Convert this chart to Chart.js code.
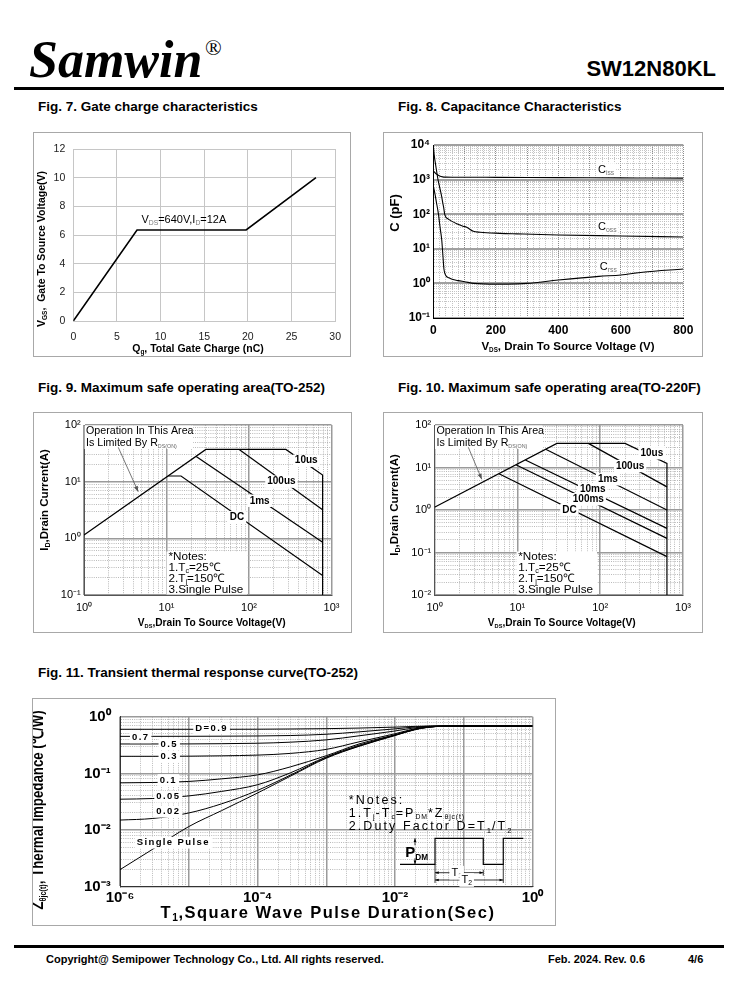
<!DOCTYPE html>
<html lang="en">
<head>
<meta charset="UTF-8">
<meta name="viewport" content="width=device-width, initial-scale=1.0">
<title>SW12N80KL - characteristics page 4/6</title>
<script src="https://cdn.jsdelivr.net/npm/chart.js"></script>
<style>
  html, body { margin: 0; padding: 0; background: #fff; }
  #page { position: relative; width: 738px; height: 1000px; overflow: hidden; font-family: "Liberation Sans", Arial, sans-serif; color: #000; }
  .abs { position: absolute; white-space: nowrap; }
  .logo { left: 29px; top: 34px; font: italic bold 52px/52px "Liberation Serif", "Times New Roman", serif; }
  .reg { left: 205px; top: 37px; font: 22px/22px "Liberation Serif", "Times New Roman", serif; }
  .part { right: 22px; top: 58px; font: bold 22px/22px "Liberation Sans", Arial, sans-serif; }
  .rule { left: 14px; width: 710px; height: 3px; background: #000; }
  .fig { font: bold 13.5px/16px "Liberation Sans", Arial, sans-serif; }
  .box { border: 1px solid #a8a8a8; box-sizing: border-box; pointer-events: none; }
  .foot { top: 952px; font: bold 11px/14px "Liberation Sans", Arial, sans-serif; }
  canvas { position: absolute; }
</style>
</head>
<body>
<div id="page">
  <div class="abs logo">Samwin</div>
  <div class="abs reg">®</div>
  <div class="abs part">SW12N80KL</div>
  <div class="abs rule" style="top:87px"></div>

  <div class="abs fig" style="left:38px;top:99px">Fig. 7. Gate charge characteristics</div>
  <div class="abs fig" style="left:398px;top:99px">Fig. 8. Capacitance Characteristics</div>
  <div class="abs fig" style="left:38px;top:380px">Fig. 9. Maximum safe operating area(TO-252)</div>
  <div class="abs fig" style="left:398px;top:380px">Fig. 10. Maximum safe operating area(TO-220F)</div>
  <div class="abs fig" style="left:38px;top:665px">Fig. 11. Transient thermal response curve(TO-252)</div>

  <canvas id="fig7"></canvas>
  <canvas id="fig8"></canvas>
  <canvas id="fig9"></canvas>
  <canvas id="fig10"></canvas>
  <canvas id="fig11"></canvas>

  <div class="abs rule" style="top:945px"></div>
  <div class="abs foot" style="left:46px">Copyright@ Semipower Technology Co., Ltd. All rights reserved.</div>
  <div class="abs foot" style="left:548px">Feb. 2024. Rev. 0.6</div>
  <div class="abs foot" style="left:688px">4/6</div>
</div>

<script>
// ---------------- data ----------------
// Fig. 7 gate charge (nC -> V)
const gateChargeNc = [0, 7.3, 19.8, 27.8];
const gateVoltageV = [0, 6.35, 6.35, 10];

// Fig. 8 capacitance (V -> pF)
const cissVds = [0, 5, 10, 20, 30, 40, 60, 100, 200, 300, 400, 500, 600, 700, 800];
const cissPf  = [1800, 1600, 1450, 1280, 1200, 1180, 1170, 1170, 1160, 1150, 1140, 1130, 1120, 1110, 1100];
const cossVds = [0, 3, 8, 15, 20, 27, 30, 33, 37, 48, 60, 75, 95, 107, 128, 150, 213, 267, 400, 600, 800];
const cossPf  = [10000, 5000, 2500, 1000, 620, 316, 220, 160, 95, 72, 62, 53, 45, 42, 32, 30, 28, 27, 25, 23.5, 22];
const crssVds = [0, 5, 10, 16, 22, 27, 31, 34, 40, 50, 60, 80, 100, 130, 200, 270, 300, 400, 530, 600, 670, 800];
const crssPf  = [650, 400, 220, 107, 40, 18, 6, 2.6, 1.7, 1.45, 1.32, 1.2, 1.12, 1.0, 0.95, 0.97, 1.0, 1.25, 1.6, 1.75, 2.1, 2.6];

// Fig. 9 SOA TO-252 (V -> A)
const soa252LimitV = [1, 30, 280, 780, 780];
const soa252LimitA = [1.15, 37, 37, 13.1, 0.1];
const soa252us100V = [76, 780];
const soa252us100A = [37, 3.2];
const soa252ms1V   = [22.9, 780];
const soa252ms1A   = [27.9, 0.85];
const soa252DcV    = [10.5, 15, 780];
const soa252DcA    = [12.6, 12.6, 0.22];

// Fig. 10 SOA TO-220F (V -> A)
const soa220LimitV = [1, 30, 200, 640, 640];
const soa220LimitA = [1.16, 37, 37, 12.5, 0.01];
const soa220us100V = [72, 640];
const soa220us100A = [37, 3.5];
const soa220ms1V   = [22, 640];
const soa220ms1A   = [27, 1.0];
const soa220ms10V  = [12.5, 640];
const soa220ms10A  = [15, 0.37];
const soa220ms100V = [9.6, 640];
const soa220ms100A = [11.6, 0.215];
const soa220DcV    = [6, 640];
const soa220DcA    = [7.1, 0.08];

// Fig. 11 transient thermal impedance (s -> degC/W)
const pulseSec = [1e-6, 3e-6, 1e-5, 3e-5, 1e-4, 3e-4, 1e-3, 3e-3, 1e-2, 2e-2, 3e-2, 5e-2, 1e-1, 1];
const zthD09   = [0.60, 0.60, 0.60, 0.60, 0.602, 0.607, 0.615, 0.63, 0.655, 0.675, 0.683, 0.685, 0.685, 0.685];
const zthD07   = [0.45, 0.45, 0.451, 0.453, 0.457, 0.465, 0.49, 0.54, 0.61, 0.66, 0.678, 0.685, 0.685, 0.685];
const zthD05   = [0.33, 0.33, 0.331, 0.334, 0.34, 0.355, 0.39, 0.46, 0.56, 0.64, 0.672, 0.685, 0.685, 0.685];
const zthD03   = [0.20, 0.20, 0.201, 0.204, 0.21, 0.225, 0.265, 0.36, 0.50, 0.62, 0.665, 0.684, 0.685, 0.685];
const zthD01   = [0.068, 0.069, 0.072, 0.08, 0.094, 0.13, 0.205, 0.33, 0.48, 0.605, 0.655, 0.682, 0.685, 0.685];
const zthD005  = [0.035, 0.036, 0.04, 0.048, 0.063, 0.102, 0.195, 0.315, 0.475, 0.60, 0.652, 0.681, 0.685, 0.685];
const zthD002  = [0.015, 0.016, 0.02, 0.029, 0.05, 0.093, 0.19, 0.305, 0.47, 0.60, 0.65, 0.68, 0.685, 0.685];
const zthSingle = [0.002, 0.0046, 0.0115, 0.022, 0.045, 0.089, 0.185, 0.30, 0.465, 0.595, 0.648, 0.68, 0.685, 0.685];

// pulse sketch inside fig. 11 (in axis units)
const pulseEdges  = [0.01183, 0.0382, 0.1923, 0.3758, 0.7345];
const pulseLevels = [0.002485, 0.00715];

// ---------------- helpers ----------------
const SANS = '"Liberation Sans", Arial, sans-serif';
const SUPS = {'0':'⁰','1':'¹','2':'²','3':'³','4':'⁴','5':'⁵','6':'⁶','7':'⁷','8':'⁸','9':'⁹','-':'⁻'};

function isPow10(v) {
  const e = Math.log10(v);
  return Math.abs(e - Math.round(e)) < 1e-6;
}
function decadeLabel(v) {
  if (!isPow10(v)) return '';
  return '10' + String(Math.round(Math.log10(v))).replace(/./g, c => SUPS[c]);
}
function evenDecadeLabel(v) {
  if (!isPow10(v) || Math.round(Math.log10(v)) % 2 !== 0) return '';
  return decadeLabel(v);
}
function decadeTicks(min, max) {
  const out = [];
  for (let e = Math.round(Math.log10(min)); e < Math.round(Math.log10(max)); e++) {
    for (let m = 1; m < 10; m++) out.push(m * Math.pow(10, e));
  }
  out.push(max);
  return out;
}
function pts(xs, ys) { return xs.map((x, i) => ({ x, y: ys[i] })); }
function line(xs, ys, extra) {
  return Object.assign({
    data: pts(xs, ys), borderColor: '#000', borderWidth: 1.2,
    pointRadius: 0, showLine: true, fill: false, tension: 0
  }, extra || {});
}

function drawRich(ctx, it, x, y) {
  const size = it.size || 11;
  const fam = it.family || SANS;
  const weight = it.bold ? 'bold ' : '';
  const subSize = size * (it.subScale || 0.62);
  const ls = it.ls || 0;
  ctx.save();
  const segs = it.parts.map(p => {
    const s = Array.isArray(p) ? p[0] : p;
    const kind = Array.isArray(p) ? p[1] : '';
    const fs = kind ? subSize : size;
    const sp = kind ? ls * 0.4 : ls;
    ctx.font = weight + fs + 'px ' + fam;
    ctx.letterSpacing = sp + 'px';
    return { s, kind, fs, sp, w: ctx.measureText(s).width };
  });
  const total = segs.reduce((a, g) => a + g.w, 0);
  ctx.translate(x, y);
  if (it.rot) ctx.rotate(it.rot * Math.PI / 180);
  if (it.sx) ctx.scale(it.sx, 1);
  let cx = it.align === 'center' ? -total / 2 : it.align === 'right' ? -total : 0;
  if (it.bg) {
    ctx.fillStyle = it.bg;
    ctx.fillRect(cx - 2, -size * 0.62, total + 4, size * 1.24);
  }
  ctx.textBaseline = 'middle';
  ctx.textAlign = 'left';
  segs.forEach(g => {
    ctx.font = weight + g.fs + 'px ' + fam;
    ctx.letterSpacing = g.sp + 'px';
    ctx.fillStyle = g.kind ? (it.subColor || it.color || '#000') : (it.color || '#000');
    const dy = g.kind === 'sub' ? size * 0.3 : g.kind === 'sup' ? -size * 0.32 : 0;
    ctx.fillText(g.s, cx, dy);
    cx += g.w;
  });
  ctx.restore();
}

function drawArrow(ctx, x1, y1, x2, y2, o) {
  o = o || {};
  const L = o.head || 5;
  ctx.save();
  ctx.strokeStyle = ctx.fillStyle = o.color || '#000';
  ctx.lineWidth = o.width || 1;
  ctx.beginPath(); ctx.moveTo(x1, y1); ctx.lineTo(x2, y2); ctx.stroke();
  const a = Math.atan2(y2 - y1, x2 - x1);
  const heads = o.both ? [[x2, y2, a], [x1, y1, a + Math.PI]] : [[x2, y2, a]];
  heads.forEach(([hx, hy, ha]) => {
    ctx.beginPath();
    ctx.moveTo(hx, hy);
    ctx.lineTo(hx - L * Math.cos(ha - 0.35), hy - L * Math.sin(ha - 0.35));
    ctx.lineTo(hx - L * Math.cos(ha + 0.35), hy - L * Math.sin(ha + 0.35));
    ctx.closePath(); ctx.fill();
  });
  ctx.restore();
}

function T(parts, o) { return Object.assign({ parts }, o); }

function overlay(box, items, extra) {
  return {
    id: 'overlay',
    afterDatasetsDraw(chart) {
      const ctx = chart.ctx, sx = chart.scales.x, sy = chart.scales.y;
      const X = v => sx.getPixelForValue(v), Y = v => sy.getPixelForValue(v);
      items.forEach(it => {
        if (it.rect) {
          const [l, t, r, b] = it.rect;
          ctx.save(); ctx.fillStyle = '#fff';
          ctx.fillRect(l - box.l, t - box.t, r - l, b - t);
          ctx.restore();
        }
      });
      if (extra) extra(ctx, X, Y);
      items.forEach(it => {
        if (it.rect) return;
        if (it.arrow) {
          const [x1, y1, x2, y2] = it.arrow;
          drawArrow(ctx, X(x1), Y(y1), X(x2), Y(y2), it);
          return;
        }
        const x = it.x !== undefined ? X(it.x) : it.px - box.l;
        const y = it.y !== undefined ? Y(it.y) : it.py - box.t;
        drawRich(ctx, it, x, y);
      });
    }
  };
}

function logAxis(min, max, font, pad, st, labeller) {
  return {
    type: 'logarithmic', min, max,
    afterBuildTicks: s => { s.ticks = decadeTicks(min, max).map(v => ({ value: v })); },
    ticks: { autoSkip: false, maxRotation: 0, padding: pad, font, color: '#000', callback: v => (labeller || decadeLabel)(v) },
    grid: {
      drawTicks: false,
      color: c => (c.tick && isPow10(c.tick.value)) ? st.major : st.minor,
      lineWidth: c => (c.tick && isPow10(c.tick.value)) ? st.majorW : st.minorW
    },
    border: {
      display: true, color: st.axis, width: 1,
      dash: c => (c.tick && isPow10(c.tick.value)) ? [] : st.dash
    }
  };
}

function makeChart(id, box, plot, xs, ys, datasets, plugin) {
  const cv = document.getElementById(id);
  cv.width = box.w; cv.height = box.h;
  cv.style.left = box.l + 'px'; cv.style.top = box.t + 'px';
  cv.style.width = box.w + 'px'; cv.style.height = box.h + 'px';
  const frame = document.createElement('div');
  frame.className = 'abs box';
  Object.assign(frame.style, { left: box.l + 'px', top: box.t + 'px', width: box.w + 'px', height: box.h + 'px' });
  document.getElementById('page').appendChild(frame);

  xs.afterFit = s => { s.height = box.t + box.h - plot.b; };
  ys.afterFit = s => { s.width = plot.l - box.l; };
  return new Chart(cv, {
    type: 'scatter',
    data: { datasets },
    options: {
      responsive: false, animation: false, events: [],
      layout: { padding: { left: 0, bottom: 0, top: plot.t - box.t, right: box.l + box.w - plot.r } },
      plugins: { legend: { display: false }, tooltip: { enabled: false } },
      scales: { x: xs, y: ys }
    },
    plugins: [plugin]
  });
}

// ---------------- Fig. 7 ----------------
(function () {
  const box = { l: 33, t: 132, w: 318, h: 225 };
  const plot = { l: 73.3, t: 149, r: 336.7, b: 321 };
  const tf = { family: SANS, size: 10.5 };
  const gridC = '#c6c6c6';
  const xs = { type: 'linear', min: 0, max: 30,
    ticks: { stepSize: 5, padding: 10, font: tf, color: '#222' },
    grid: { color: gridC, lineWidth: 1, drawTicks: false }, border: { color: gridC } };
  const ys = { type: 'linear', min: 0, max: 12,
    ticks: { stepSize: 2, padding: 8, font: tf, color: '#222' },
    grid: { color: gridC, lineWidth: 1, drawTicks: false }, border: { color: gridC } };
  const items = [
    T(['V', ['GS', 'sub'], ',  Gate To Source Voltage(V)'], { px: 42, py: 249, rot: -90, bold: true, size: 10.5, align: 'center' }),
    T(['Q', ['g', 'sub'], ', Total Gate Charge (nC)'], { px: 198, py: 349, bold: true, size: 10.5, align: 'center' }),
    T(['V', ['DS', 'sub'], '=640V,I', ['D', 'sub'], '=12A'], { x: 7.8, y: 7.05, size: 11, subColor: '#777' })
  ];
  makeChart('fig7', box, plot, xs, ys,
    [line(gateChargeNc, gateVoltageV, { borderWidth: 1.6 })],
    overlay(box, items));
})();

// ---------------- Fig. 8 ----------------
(function () {
  const box = { l: 383, t: 132, w: 320, h: 225 };
  const plot = { l: 433.3, t: 145, r: 683.3, b: 318 };
  const tf = { family: SANS, size: 12, weight: 'bold' };
  const xs = { type: 'linear', min: 0, max: 800,
    ticks: { stepSize: 20, autoSkip: false, maxRotation: 0, padding: 5, font: tf, color: '#000',
      callback: v => (v % 200 === 0 ? String(v) : '') },
    grid: { drawTicks: false,
      color: c => (c.tick && c.tick.value % 100 === 0) ? '#8c8c8c' : '#c4c4c4',
      lineWidth: 1 },
    border: { color: '#000', width: 1, dash: [1, 1] } };
  const ys = logAxis(0.1, 10000, tf, 3.3,
    { major: '#a0a0a0', minor: '#b8b8b8', majorW: 2, minorW: 0.8, axis: '#000', dash: [1, 1] });
  const items = [
    T(['C (pF)'], { px: 395, py: 213, rot: -90, bold: true, size: 13, align: 'center' }),
    T(['V', ['DS', 'sub'], ', Drain To Source Voltage (V)'], { px: 568, py: 347, bold: true, size: 11.5, align: 'center', subScale: 0.55 }),
    T(['C', ['iss', 'sub']], { x: 527, y: 1890, size: 11, subColor: '#777', bg: '#fff' }),
    T(['C', ['oss', 'sub']], { x: 527, y: 43.5, size: 11, subColor: '#777', bg: '#fff' }),
    T(['C', ['rss', 'sub']], { x: 533, y: 3.04, size: 11, subColor: '#777', bg: '#fff' })
  ];
  const smooth = { cubicInterpolationMode: 'monotone', borderWidth: 1.1 };
  makeChart('fig8', box, plot, xs, ys, [
    line(cissVds, cissPf, smooth),
    line(cossVds, cossPf, smooth),
    line(crssVds, crssPf, smooth)
  ], overlay(box, items));
})();

// ---------------- SOA figures ----------------
const soaGrid = { major: '#9a9a9a', minor: '#a8a8a8', majorW: 1.5, minorW: 0.8, axis: '#555', dash: [1, 1.2] };
const soaTick = { family: SANS, size: 11 };
const lblOpt = { bold: true, size: 10, align: 'center', bg: '#fff' };

function soaNotes(left) {
  return [
    T(['*Notes:'], { px: left, py: 556.5, size: 11.7 }),
    T(['1.T', ['c', 'sub'], '=25℃'], { px: left, py: 567.5, size: 11.7 }),
    T(['2.T', ['j', 'sub'], '=150℃'], { px: left, py: 578.5, size: 11.7 }),
    T(['3.Single Pulse'], { px: left, py: 589.5, size: 11.7 })
  ];
}
function soaHeader(left) {
  return [
    T(['Operation In This Area'], { px: left + 2, py: 431, size: 10.7 }),
    T(['Is Limited By R', ['DS(ON)', 'sub']], { px: left + 2, py: 443.5, size: 10.7, subScale: 0.5, subColor: '#666' })
  ];
}

// Fig. 9
(function () {
  const box = { l: 33, t: 412, w: 319, h: 221 };
  const plot = { l: 84, t: 425, r: 331.5, b: 595 };
  const xs = logAxis(1, 1000, soaTick, 6.4, soaGrid);
  const ys = logAxis(0.1, 100, soaTick, 3.3, soaGrid);
  const items = [
    { rect: [84.5, 425.5, 193, 449] },
    { rect: [166.5, 551.5, 247, 594.5] },
    ...soaHeader(84),
    ...soaNotes(168.5),
    { arrow: [2.6, 40.4, 4.54, 6.65], color: '#555', width: 0.8, head: 6 },
    T(['10us'], Object.assign({ x: 494, y: 23.4 }, lblOpt)),
    T(['100us'], Object.assign({ x: 247, y: 10 }, lblOpt)),
    T(['1ms'], Object.assign({ x: 134.6, y: 4.6 }, lblOpt)),
    T(['DC'], Object.assign({ x: 71.6, y: 2.35 }, lblOpt)),
    T(['I', ['D', 'sub'], ',Drain Current(A)'], { px: 45, py: 500, rot: -90, bold: true, size: 11.5, align: 'center' }),
    T(['V', ['DS', 'sub'], ',Drain To Source Voltage(V)'], { px: 211.7, py: 623, bold: true, size: 10.2, align: 'center', subScale: 0.55 })
  ];
  makeChart('fig9', box, plot, xs, ys, [
    line(soa252LimitV, soa252LimitA),
    line(soa252us100V, soa252us100A),
    line(soa252ms1V, soa252ms1A),
    line(soa252DcV, soa252DcA)
  ], overlay(box, items));
})();

// Fig. 10
(function () {
  const box = { l: 383, t: 412, w: 320, h: 221 };
  const plot = { l: 434.5, t: 425, r: 683, b: 595 };
  const xs = logAxis(1, 1000, soaTick, 6.4, soaGrid);
  const ys = logAxis(0.01, 100, soaTick, 3.3, soaGrid);
  const items = [
    { rect: [435, 425.5, 543, 449] },
    { rect: [516.5, 551.5, 597, 594.5] },
    ...soaHeader(434.5),
    ...soaNotes(518.3),
    { arrow: [2.56, 29.9, 3.72, 5.27], color: '#555', width: 0.8, head: 6 },
    T(['10us'], Object.assign({ x: 420, y: 21.6 }, lblOpt)),
    T(['100us'], Object.assign({ x: 230, y: 10.8 }, lblOpt)),
    T(['1ms'], Object.assign({ x: 124, y: 5.27 }, lblOpt)),
    T(['10ms'], Object.assign({ x: 81.4, y: 3.07 }, lblOpt)),
    T(['100ms'], Object.assign({ x: 72, y: 1.79 }, lblOpt)),
    T(['DC'], Object.assign({ x: 42.5, y: 1.0 }, lblOpt)),
    T(['I', ['D', 'sub'], ',Drain Current(A)'], { px: 395, py: 505, rot: -90, bold: true, size: 11.5, align: 'center' }),
    T(['V', ['DS', 'sub'], ',Drain To Source Voltage(V)'], { px: 561.7, py: 623, bold: true, size: 10.2, align: 'center', subScale: 0.55 })
  ];
  makeChart('fig10', box, plot, xs, ys, [
    line(soa220LimitV, soa220LimitA),
    line(soa220us100V, soa220us100A),
    line(soa220ms1V, soa220ms1A),
    line(soa220ms10V, soa220ms10A),
    line(soa220ms100V, soa220ms100A),
    line(soa220DcV, soa220DcA)
  ], overlay(box, items));
})();

// ---------------- Fig. 11 ----------------
(function () {
  const box = { l: 32, t: 698, w: 524, h: 228 };
  const plot = { l: 120, t: 716.7, r: 532.5, b: 886.7 };
  const tf = { family: SANS, size: 15, weight: 'bold' };
  const st = { major: '#9a9a9a', minor: '#a8a8a8', majorW: 1.5, minorW: 0.8, axis: '#333', dash: [1, 1.2] };
  const xs = logAxis(1e-6, 1, tf, 2.4, st, evenDecadeLabel);
  const ys = logAxis(1e-3, 1, tf, 9.3, st);
  const zl = { bold: true, size: 9.5, ls: 1.4, align: 'center', bg: '#fff' };
  const nt = { size: 12.5, ls: 2.1 };
  const items = [
    T(['D=0.9'], Object.assign({ x: 2.15e-5, y: 0.624 }, zl)),
    T(['0.7'], Object.assign({ x: 2.0e-6, y: 0.433 }, zl)),
    T(['0.5'], Object.assign({ x: 5.2e-6, y: 0.326 }, zl)),
    T(['0.3'], Object.assign({ x: 5.2e-6, y: 0.197 }, zl)),
    T(['0.1'], Object.assign({ x: 5.05e-6, y: 0.0764 }, zl)),
    T(['0.05'], Object.assign({ x: 5.05e-6, y: 0.0388 }, zl)),
    T(['0.02'], Object.assign({ x: 5.05e-6, y: 0.0211 }, zl)),
    T(['Single Pulse'], Object.assign({ x: 5.96e-6, y: 0.00598 }, zl)),
    T(['*Notes:'], Object.assign({ px: 348.7, py: 800.7 }, nt)),
    T(['1.T', ['j', 'sub'], '-T', ['c', 'sub'], '=P', ['DM', 'sub'], '*Z', ['θjc(t)', 'sub']], Object.assign({ px: 348.7, py: 813.5, subScale: 0.55 }, nt)),
    T(['2.Duty Factor D=T', ['1', 'sub'], '/T', ['2', 'sub']], Object.assign({ px: 348.7, py: 826.7 }, nt)),
    T(['P', ['DM', 'sub']], { x: 0.0207, py: 853, bold: true, size: 15, align: 'center', subScale: 0.55 }),
    T(['T', ['1', 'sub']], { x: 0.0789, y: 0.001766, size: 11, align: 'center', bg: '#fff' }),
    T(['T', ['2', 'sub']], { x: 0.1104, y: 0.001313, size: 11, align: 'center', bg: '#fff' }),
    T(['Z', ['θjc(t)', 'sub'], ', Thermal Impedance (℃/W)'], { px: 38, py: 810, rot: -90, bold: true, size: 17, sx: 0.78, align: 'center', subScale: 0.55 }),
    T(['T', ['1', 'sub'], ',Square Wave Pulse Duration(Sec)'], { px: 328, py: 913, bold: true, size: 16.5, ls: 1.5, align: 'center' })
  ];
  function drawPulse(ctx, X, Y) {
    const [e0, e1, e2, e3, e4] = pulseEdges.map(X);
    const lo = Y(pulseLevels[0]), hi = Y(pulseLevels[1]);
    const t1y = Y(0.001766), t2y = Y(0.001313);
    ctx.save();
    ctx.strokeStyle = '#000';
    ctx.lineWidth = 1.2;
    ctx.beginPath();
    ctx.moveTo(e0, lo); ctx.lineTo(e1, lo); ctx.lineTo(e1, hi); ctx.lineTo(e2, hi);
    ctx.lineTo(e2, lo); ctx.lineTo(e3, lo); ctx.lineTo(e3, hi); ctx.lineTo(e4, hi);
    ctx.stroke();
    ctx.lineWidth = 0.8;
    ctx.beginPath();
    ctx.moveTo(e1, lo); ctx.lineTo(e1, t2y + 3);
    ctx.moveTo(e3, lo); ctx.lineTo(e3, t2y + 3);
    ctx.moveTo(e2, t1y - 3); ctx.lineTo(e2, t1y + 3);
    ctx.stroke();
    ctx.restore();
    drawArrow(ctx, e1, t1y, e2, t1y, { both: true, width: 0.8, head: 4 });
    drawArrow(ctx, e1, t2y, e3, t2y, { both: true, width: 0.8, head: 4 });
    const ax = X(0.01954);
    drawArrow(ctx, ax, hi + 7, ax, hi, { width: 0.8, head: 4 });
    drawArrow(ctx, ax, lo - 6, ax, lo, { width: 0.8, head: 4 });
  }
  const sm = { cubicInterpolationMode: 'monotone', borderWidth: 1 };
  makeChart('fig11', box, plot, xs, ys, [
    line(pulseSec, zthD09, sm),
    line(pulseSec, zthD07, sm),
    line(pulseSec, zthD05, sm),
    line(pulseSec, zthD03, sm),
    line(pulseSec, zthD01, sm),
    line(pulseSec, zthD005, sm),
    line(pulseSec, zthD002, sm),
    line(pulseSec, zthSingle, sm)
  ], overlay(box, items, drawPulse));
})();
</script>
</body>
</html>
